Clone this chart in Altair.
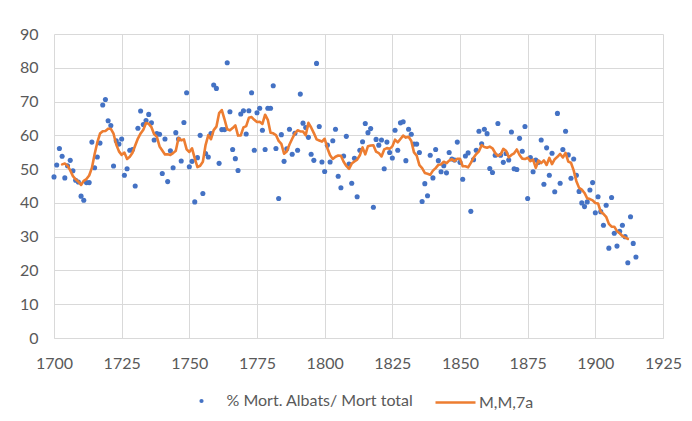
import altair as alt
import pandas as pd

FIRST_YEAR = 1700
pct_albats = [
    47.7, 51.2, 56.1, 53.8, 47.4, 51.0, 52.6, 49.5, 46.7, 46.2,  # 1700-1709
    42.0, 40.8, 46.0, 46.0, 58.0, 50.4, 53.6, 57.7, 69.0, 70.6,  # 1710-1719
    64.3, 62.9, 50.9, 58.4, 57.4, 58.9, 48.2, 50.1, 55.6, 55.8,  # 1720-1729
    45.0, 62.1, 67.2, 63.2, 64.4, 66.2, 63.7, 58.6, 60.5, 60.3,  # 1730-1739
    48.7, 58.9, 46.3, 55.4, 50.4, 60.8, 58.9, 52.4, 63.8, 72.6,  # 1740-1749
    50.7, 52.3, 40.3, 53.4, 60.0, 42.8, 54.6, 53.6, 60.5, 74.9,  # 1750-1759
    73.9, 51.7, 61.7, 61.7, 81.5, 67.0, 55.8, 53.1, 49.6, 66.3,  # 1760-1769
    67.3, 60.4, 67.3, 72.6, 55.6, 66.7, 68.0, 61.5, 55.8, 68.0,  # 1770-1779
    68.0, 74.7, 56.1, 41.3, 60.2, 52.3, 56.0, 61.8, 54.4, 60.6,  # 1780-1789
    55.6, 72.2, 63.6, 62.3, 59.4, 54.4, 52.6, 81.3, 62.6, 52.1,  # 1790-1799
    49.3, 57.1, 52.1, 58.4, 61.8, 47.9, 44.5, 53.9, 59.7, 51.5,  # 1800-1809
    45.8, 53.2, 41.8, 55.6, 58.1, 63.5, 60.8, 62.0, 38.7, 58.8,  # 1810-1819
    57.1, 58.6, 50.1, 58.0, 54.9, 53.3, 61.5, 55.6, 63.7, 64.0,  # 1820-1829
    52.5, 61.8, 60.3, 57.4, 57.4, 54.9, 40.4, 45.7, 42.1, 54.1,  # 1830-1839
    47.4, 55.8, 52.5, 49.2, 51.0, 48.9, 54.9, 53.0, 52.7, 58.0,  # 1840-1849
    52.0, 47.0, 53.9, 54.8, 37.5, 52.8, 55.6, 61.2, 57.5, 61.8,  # 1850-1859
    60.5, 50.2, 49.0, 54.1, 63.5, 54.1, 52.0, 54.6, 52.7, 61.0,  # 1860-1869
    50.1, 49.9, 59.1, 55.3, 62.6, 41.3, 53.4, 49.2, 52.7, 52.0,  # 1870-1879
    58.6, 45.5, 56.3, 48.2, 54.7, 43.3, 66.5, 45.8, 55.8, 61.2,  # 1880-1889
    54.2, 47.3, 53.0, 48.2, 43.4, 40.0, 38.9, 40.3, 43.8, 46.0,  # 1890-1899
    37.1, 41.8, 37.4, 33.4, 39.3, 26.6, 41.6, 31.0, 27.2, 31.6,  # 1900-1909
    33.4, 30.0, 22.3, 35.9, 28.0, 24.0,                          # 1910-1915
]
years = list(range(FIRST_YEAR, FIRST_YEAR + len(pct_albats)))

x_ticks = [1700, 1725, 1750, 1775, 1800, 1825, 1850, 1875, 1900, 1925]
y_ticks = [0, 10, 20, 30, 40, 50, 60, 70, 80, 90]
SERIE_PTS = "% Mort. Albats/ Mort total"
SERIE_MA = "M,M,7a"
MA_WINDOW = 7

BLUE = "#4472C4"
ORANGE = "#ED7D31"
GRID = "#d9d9d9"
TXT = "#595959"
FONT = "Lato"

df = pd.DataFrame({"any": years, "pct": pct_albats})

x_scale = alt.Scale(domain=[x_ticks[0], x_ticks[-1]], nice=False, zero=False)
y_scale = alt.Scale(domain=[y_ticks[0], y_ticks[-1]], nice=False)
x_axis = alt.Axis(values=x_ticks, format="d", title=None, ticks=False, tickSize=0,
                  labelPadding=17, grid=True, labelFlush=False, labelOverlap=False)
y_axis = alt.Axis(values=y_ticks, format="d", title=None, ticks=False, tickSize=0,
                  labelPadding=16, grid=True, domain=False, labelOverlap=False,
                  labelFlush=False)

points = (
    alt.Chart(df)
    .transform_calculate(serie="'" + SERIE_PTS + "'")
    .mark_circle(size=26, opacity=1)
    .encode(
        x=alt.X("any:Q", scale=x_scale, axis=x_axis),
        y=alt.Y("pct:Q", scale=y_scale, axis=y_axis),
        fill=alt.Fill(
            "serie:N",
            scale=alt.Scale(domain=[SERIE_PTS], range=[BLUE]),
            legend=alt.Legend(
                orient="none", legendX=139.5, legendY=359, title=None,
                symbolType="circle", symbolSize=18, labelOffset=17,
                padding=0, labelLimit=400,
            ),
        ),
    )
)

half = MA_WINDOW // 2
line = (
    alt.Chart(df)
    .transform_window(ma="mean(pct)", n="count()", frame=[-half, half],
                      sort=[alt.SortField("any")])
    .transform_filter(f"datum.n == {MA_WINDOW}")
    .transform_calculate(serie="'" + SERIE_MA + "'")
    .mark_line(strokeWidth=2.6, strokeJoin="round", strokeCap="round")
    .encode(
        x=alt.X("any:Q", scale=x_scale, axis=x_axis),
        y=alt.Y("ma:Q", scale=y_scale, axis=y_axis),
        stroke=alt.Stroke(
            "serie:N",
            scale=alt.Scale(domain=[SERIE_MA], range=[ORANGE]),
            legend=alt.Legend(
                orient="none", legendX=380, legendY=347, title=None,
                symbolType="stroke", symbolSize=1600, symbolStrokeWidth=2.6,
                symbolStrokeColor=ORANGE,
                labelOffset=2, padding=0, labelLimit=400,
            ),
        ),
    )
)

chart = (
    alt.layer(points, line)
    .properties(
        width=609, height=304,
        autosize=alt.AutoSizeParams(type="none"),
        padding={"left": 46, "top": 26, "right": 21, "bottom": 75},
    )
    .configure_view(stroke="transparent")
    .configure_axis(
        labelFont=FONT, labelFontSize=16, labelColor=TXT,
        gridColor=GRID, gridWidth=1, domainColor=GRID, domainWidth=1,
    )
    .configure_legend(
        labelFont=FONT, labelFontSize=16, labelColor=TXT,
    )
)

chart.save("out.html", embed_options={"renderer": "svg", "actions": False})
